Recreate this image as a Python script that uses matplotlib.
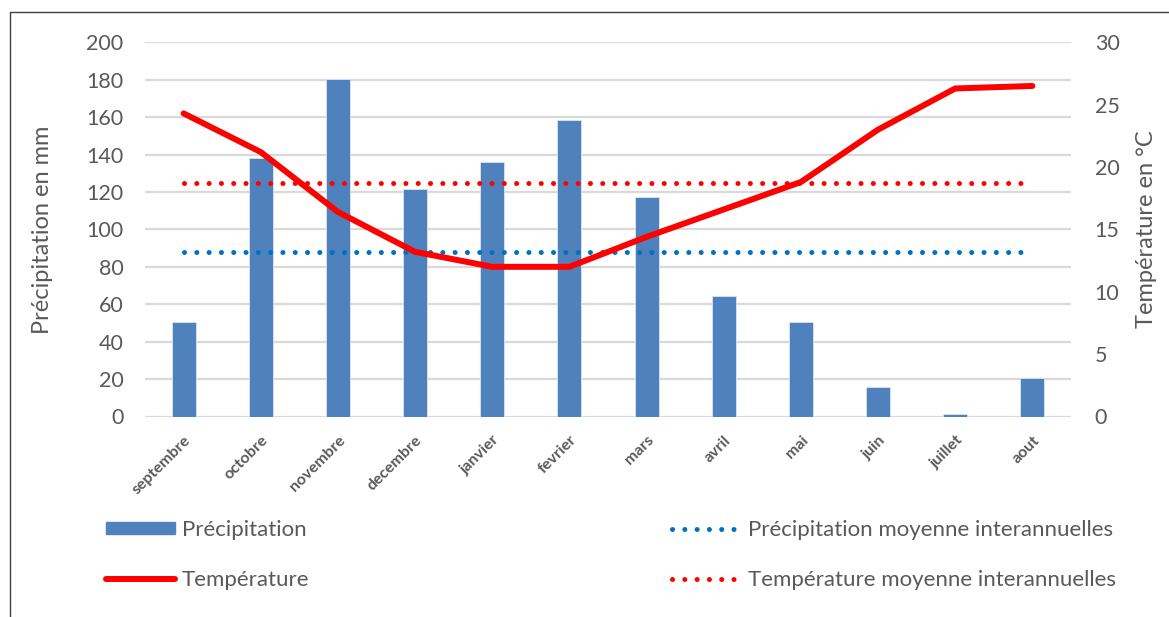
import matplotlib
matplotlib.use("Agg")
import matplotlib.pyplot as plt
from matplotlib.lines import Line2D
from matplotlib.patches import Patch

plt.rcParams['font.family'] = ['Lato', 'DejaVu Sans']

months = ["septembre", "octobre", "novembre", "decembre", "janvier", "fevrier",
          "mars", "avril", "mai", "juin", "juillet", "aout"]
precip = [50.3, 138, 180.2, 121.5, 136, 158.5, 117.5, 64.4, 50.7, 15.8, 1.2, 20.7]
temp = [24.3, 21.2, 16.4, 13.2, 12.0, 12.0, 14.4, 16.6, 18.8, 23.0, 26.3, 26.5]
precip_mean = sum(precip) / len(precip)
temp_mean = sum(temp) / len(temp)

left_ticks = [0, 20, 40, 60, 80, 100, 120, 140, 160, 180, 200]
right_ticks = [0, 5, 10, 15, 20, 25, 30]

TXT = "#595959"
GRID = "#d9d9d9"
BAR = "#4f81bd"
RED = "#ff0000"
BLUE = "#0070c0"

W, H = 1169, 617
fig = plt.figure(figsize=(W / 100, H / 100), dpi=100)
ax = fig.add_axes([145 / W, 1 - 416.5 / H, (1071 - 145) / W, (416.5 - 42.3) / H])
ax2 = ax.twinx()

x = list(range(len(months)))
ax.bar(x, precip, width=0.31, color=BAR, edgecolor="#dbe5f1", linewidth=0.6, zorder=2)
ax.set_xlim(-0.5, len(months) - 0.5)
ax.set_ylim(0, 200)
ax.set_yticks(left_ticks)
ax.grid(axis="y", color=GRID, linewidth=1.6, zorder=0)
ax.set_axisbelow(True)

ax2.set_ylim(0, 30)
ax2.set_yticks(right_ticks)

dot = (0, (0.01, 2.45))
ax.plot(x, [precip_mean] * len(x), color=BLUE, lw=3.6, linestyle=dot,
        dash_capstyle="round", zorder=3)
ax2.plot(x, [temp_mean] * len(x), color=RED, lw=3.6, linestyle=dot,
         dash_capstyle="round", zorder=3)
ax2.plot(x, temp, color=RED, lw=4.3, solid_capstyle="round",
         solid_joinstyle="round", zorder=4)

for a in (ax, ax2):
    for s in a.spines.values():
        s.set_visible(False)
    a.tick_params(length=0, colors=TXT, labelsize=15.5)

ax.tick_params(axis="y", pad=15.5)
ax2.tick_params(axis="y", pad=17)
ax.set_xticks(x)
ax.set_xticklabels(months, rotation=45, ha="right", va="top", rotation_mode="anchor",
                   fontsize=11.5, fontweight="bold", color=TXT)
ax.tick_params(axis="x", pad=12)

ax.set_ylabel("Précipitation en mm", fontsize=17, color=TXT, labelpad=24)
ax2.set_ylabel("Température en °C", fontsize=17, color=TXT, rotation=90, labelpad=12)

# Legends
h_prec = Patch(facecolor=BAR, edgecolor=BAR)
h_temp = Line2D([], [], color=RED, lw=4.3, solid_capstyle="round")
h_pm = Line2D([], [], color=BLUE, lw=3.6, linestyle=dot, dash_capstyle="round")
h_tm = Line2D([], [], color=RED, lw=3.6, linestyle=dot, dash_capstyle="round")

leg_kw = dict(frameon=False, fontsize=16, labelcolor=TXT, handlelength=3.1,
              handleheight=0.5, handletextpad=0.3, labelspacing=1.34, borderpad=0,
              borderaxespad=0, loc="upper left")
leg1 = fig.legend([h_prec, h_temp], ["Précipitation", "Température"],
                  bbox_to_anchor=(106 / W, 1 - 520 / H), **leg_kw)
leg2 = fig.legend([h_pm, h_tm], ["Précipitation moyenne interannuelles",
                                 "Température moyenne interannuelles"],
                  bbox_to_anchor=(672 / W, 1 - 520 / H), **leg_kw)

# Outer frame
fig.add_artist(Line2D([9.5 / W, 9.5 / W, 1.0], [0.0, 1 - 11.5 / H, 1 - 11.5 / H],
                      transform=fig.transFigure, color="#404040", lw=1.0))

fig.savefig("out.png", dpi=100, facecolor="white")
